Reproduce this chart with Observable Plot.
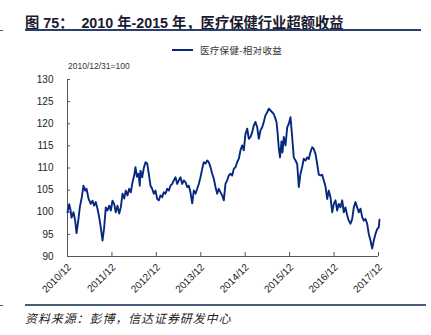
<!DOCTYPE html>
<html><head><meta charset="utf-8">
<script src="https://cdn.jsdelivr.net/npm/d3@7"></script>
<script src="https://cdn.jsdelivr.net/npm/@observablehq/plot@0.6"></script>
<style>
body{margin:0;background:#fff;}
#wrap{position:relative;width:431px;height:335px;overflow:hidden;font-family:"Liberation Sans",Arial,"Noto Sans CJK SC",sans-serif;}
#chart{position:absolute;left:0;top:0;}
.abs{position:absolute;white-space:nowrap;}
#title{left:25px;top:11px;font-size:14.3px;font-weight:bold;color:#1a1a2e;font-family:"Liberation Sans",Arial,"Noto Sans CJK SC",sans-serif;}
#rule1{left:25px;top:29px;width:396px;height:2px;background:#2b3f6b;}
#rule2{left:25px;top:304px;width:401px;height:2px;background:#4a5a7a;}
#mk1{left:0;top:30px;width:3px;height:1px;background:#555;}
#mk2{left:0;top:305px;width:3px;height:1px;background:#555;}
#leg{left:172px;top:43px;font-size:9.5px;color:#333;letter-spacing:0.3px;font-family:"Noto Sans CJK SC",sans-serif;}
#leg span.sw{display:inline-block;width:21px;height:2px;background:#06287e;vertical-align:middle;margin-right:7px;position:relative;top:-1px;}
#base{left:68px;top:61px;font-size:8.5px;color:#333;}
#src{left:25px;top:309px;font-size:12px;font-style:italic;color:#222;letter-spacing:0.9px;font-family:"Noto Sans CJK SC",sans-serif;}
</style></head><body>
<div id="wrap">
  <div id="chart"></div>
  <div class="abs" id="title">图 75：&nbsp;&nbsp;2010 年-2015 年，医疗保健行业超额收益</div>
  <div class="abs" id="rule1"></div>
  <div class="abs" id="mk1"></div>
  <div class="abs" id="leg"><span class="sw"></span>医疗保健-相对收益</div>
  <div class="abs" id="base">2010/12/31=100</div>
  <div class="abs" id="rule2"></div>
  <div class="abs" id="mk2"></div>
  <div class="abs" id="src">资料来源：彭博，信达证券研发中心</div>
</div>
<script>
// x positions in decimal years (2011.0 = 2010/12/31)
const times = [
2011.000,2011.038,2011.068,2011.090,2011.135,2011.173,2011.203,2011.241,2011.277,2011.322,
2011.360,2011.398,2011.428,2011.473,2011.524,2011.563,2011.601,2011.637,2011.675,2011.713,
2011.749,2011.788,2011.826,2011.862,2011.900,2011.939,2011.975,2012.013,2012.051,2012.087,
2012.125,2012.164,2012.200,2012.238,2012.276,2012.312,2012.350,2012.389,2012.425,2012.463,
2012.501,2012.530,2012.564,2012.598,2012.627,2012.643,2012.681,2012.717,2012.756,2012.794,
2012.830,2012.868,2012.906,2012.942,2012.981,2013.019,2013.055,2013.093,2013.131,2013.167,
2013.206,2013.244,2013.280,2013.318,2013.357,2013.393,2013.431,2013.469,2013.505,2013.543,
2013.582,2013.618,2013.656,2013.694,2013.730,2013.768,2013.807,2013.843,2013.881,2013.919,
2013.955,2013.993,2014.032,2014.068,2014.106,2014.144,2014.180,2014.219,2014.257,2014.293,
2014.331,2014.369,2014.405,2014.444,2014.482,2014.518,2014.556,2014.594,2014.630,2014.669,
2014.707,2014.743,2014.781,2014.819,2014.856,2014.894,2014.932,2014.968,2015.006,2015.045,
2015.081,2015.119,2015.157,2015.193,2015.231,2015.270,2015.306,2015.344,2015.382,2015.418,
2015.456,2015.495,2015.531,2015.569,2015.607,2015.643,2015.682,2015.704,2015.727,2015.756,
2015.783,2015.817,2015.839,2015.868,2015.907,2015.945,2015.981,2016.019,2016.057,2016.093,
2016.132,2016.170,2016.206,2016.244,2016.282,2016.318,2016.357,2016.395,2016.431,2016.469,
2016.507,2016.543,2016.582,2016.620,2016.656,2016.694,2016.732,2016.769,2016.807,2016.845,
2016.881,2016.919,2016.958,2016.994,2017.032,2017.070,2017.106,2017.144,2017.183,2017.219,
2017.257,2017.295,2017.331,2017.370,2017.408,2017.444,2017.482,2017.520,2017.556,2017.595,
2017.633,2017.669,2017.707,2017.745,2017.781,2017.820,2017.858,2017.894,2017.932,2017.970,
2018.006,2018.022
];
// relative return index (2010/12/31 = 100)
const values = [
100.0,101.8,100.5,98.8,100.0,98.1,95.3,98.0,101.1,103.4,
106.0,104.9,105.3,103.1,101.9,102.6,101.5,102.3,100.8,98.9,
96.6,93.6,96.6,101.1,100.4,101.5,100.4,102.6,101.9,100.0,
101.5,99.7,101.1,104.2,103.1,104.9,103.8,105.3,104.5,106.8,
108.3,110.2,108.0,108.7,106.0,109.4,107.9,110.0,111.3,111.0,
108.7,106.0,105.3,104.2,104.9,103.0,102.7,103.8,103.4,104.5,
104.2,105.3,104.9,106.0,106.4,107.2,107.9,106.4,107.2,107.9,
106.4,107.2,106.8,105.7,106.0,104.5,102.0,104.9,104.2,105.3,
106.4,107.9,109.8,111.3,111.0,111.7,111.3,110.2,108.7,107.6,
105.7,104.2,105.3,104.5,103.8,102.7,106.4,107.2,108.3,108.7,
108.3,109.8,110.2,111.3,112.1,114.0,115.1,114.0,117.7,118.9,
116.6,117.0,118.1,119.6,120.4,119.2,116.6,118.5,119.2,120.4,
121.9,122.6,123.4,123.0,122.6,122.2,121.1,120.4,118.1,114.5,
112.4,116.0,113.5,117.0,115.1,119.2,120.0,121.5,117.0,112.4,
111.7,110.9,105.7,108.7,110.2,112.1,111.7,112.4,112.0,113.6,
114.7,114.3,113.2,110.9,108.5,108.3,108.5,107.2,105.8,103.0,
104.9,103.4,100.0,101.9,102.7,100.4,101.9,101.1,102.7,100.0,
101.1,99.3,98.1,97.4,98.5,101.1,102.3,101.1,100.0,100.8,
98.9,98.1,98.5,97.4,95.1,93.6,91.8,93.6,95.1,96.2,
96.6,98.3
];
const yTicks = [90,95,100,105,110,115,120,125,130];
const xTicks = [2011,2012,2013,2014,2015,2016,2017,2018];
const xLabels = ["2010/12","2011/12","2012/12","2013/12","2014/12","2015/12","2016/12","2017/12"];

const data = times.map((t,i)=>({t, v: values[i]}));
const axisColor = "#555";

const chart = Plot.plot({
  width: 431, height: 335,
  marginLeft: 67, marginRight: 53, marginTop: 79, marginBottom: 79,
  style: {fontFamily: '"Liberation Sans", Arial, sans-serif', background: "transparent"},
  x: {domain: [2011, 2018], axis: null},
  y: {domain: [90, 130], axis: null},
  marks: [
    Plot.ruleY([90], {stroke: axisColor, strokeWidth: 1}),
    Plot.ruleX([2011], {stroke: axisColor, strokeWidth: 1}),
    Plot.tickY(yTicks, {y: d=>d, insetRight: 308, stroke: axisColor}),
    Plot.tickX(xTicks, {x: d=>d, insetTop: 173, stroke: axisColor}),
    Plot.text(yTicks, {x: 2011, y: d=>d, text: d=>String(d), textAnchor: "end", dx: -14, fontSize: 10, fill: "#222"}),
    Plot.text(xTicks, {x: d=>d, y: 90, text: (d,i)=>xLabels[i], rotate: -45, textAnchor: "end", dx: 2, dy: 9, fontSize: 10, fill: "#222"}),
    Plot.line(data, {x: "t", y: "v", stroke: "#06287e", strokeWidth: 1.9, strokeLinejoin: "round"})
  ]
});
document.getElementById("chart").appendChild(chart);
</script>
</body></html>
